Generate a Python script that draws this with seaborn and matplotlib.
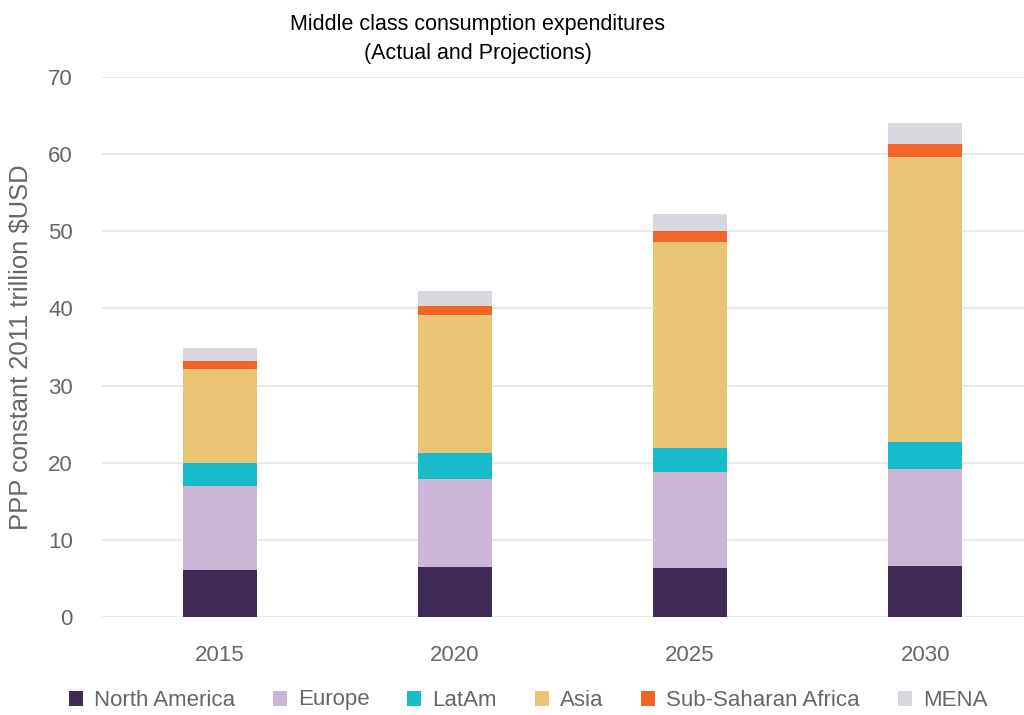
import numpy as np
import pandas as pd
import matplotlib
matplotlib.use("Agg")
import matplotlib.pyplot as plt
from matplotlib.patches import Patch
from matplotlib.transforms import Affine2D
import seaborn as sns

years = ["2015", "2020", "2025", "2030"]
regions = ["North America", "Europe", "LatAm", "Asia", "Sub-Saharan Africa", "MENA"]
north_america = [6.1, 6.5, 6.4, 6.6]
europe = [10.9, 11.4, 12.4, 12.6]
latam = [3.0, 3.3, 3.1, 3.5]
asia = [12.2, 18.0, 26.7, 36.9]
sub_saharan_africa = [1.0, 1.1, 1.4, 1.7]
mena = [1.7, 1.9, 2.2, 2.7]
colors = ["#3f2a56", "#cbb6d8", "#17bccb", "#e9c475", "#f26526", "#d9d7de"]

series = [north_america, europe, latam, asia, sub_saharan_africa, mena]
df = pd.DataFrame({"year": years})
for name, vals in zip(regions, series):
    df[name] = vals
cum = df[regions].cumsum(axis=1)
cum["year"] = df["year"]

sns.set_theme(style="white")
plt.rcParams["font.family"] = ["Liberation Sans", "DejaVu Sans"]

fig = plt.figure(figsize=(10.24, 7.15), dpi=100)
ax = fig.add_axes([102 / 1024, 1 - 617 / 715, 1 - 102 / 1024, (617 - 77) / 715])

# stacked bars: draw cumulative totals from the top layer down
for name, col in reversed(list(zip(regions, colors))):
    sns.barplot(data=cum, x="year", y=name, order=years, color=col,
                width=0.315, saturation=1, linewidth=0, edgecolor="none",
                ax=ax, zorder=3)

ax.set_xlim(-0.5, 3.42)
ax.set_ylim(0, 70)
ax.set_yticks(np.arange(0, 71, 10))
ax.yaxis.grid(True, color="#e9e9e9", linewidth=1.4, zorder=0)
ax.set_axisbelow(True)
for s in ax.spines.values():
    s.set_visible(False)
ax.tick_params(axis="both", length=0, labelsize=16, colors="#666666")
ax.tick_params(axis="y", pad=21)
ax.tick_params(axis="x", pad=20)
ax.set_xlabel("")
ax.set_ylabel("PPP constant 2011 trillion $USD", fontsize=18.4, color="#666666")
ax.yaxis.set_label_coords(-(102 - 33) / 922, 0.5 + (617 - 347 - 270) / 540)

fig.text(478 / 1024, 1 - 39 / 715, "Middle class consumption expenditures\n(Actual and Projections)",
         ha="center", va="center", fontsize=15.5, color="#000000", linespacing=1.45)

handles = [Patch(facecolor=c, edgecolor="none") for c in colors]
leg = fig.legend(handles, regions, loc="center", bbox_to_anchor=(528 / 1024, 1 - 701 / 715),
                 ncol=6, frameon=False, fontsize=16, handlelength=0.63, handleheight=0.63,
                 handletextpad=0.5, columnspacing=1.7, labelcolor="#666666")
# keep the label with a descender on the same baseline as the others
for t in leg.get_texts():
    if t.get_text() == "Europe":
        t.set_transform(t.get_transform() + Affine2D().translate(0, 2))

fig.savefig("out.png", dpi=100, facecolor="white")
